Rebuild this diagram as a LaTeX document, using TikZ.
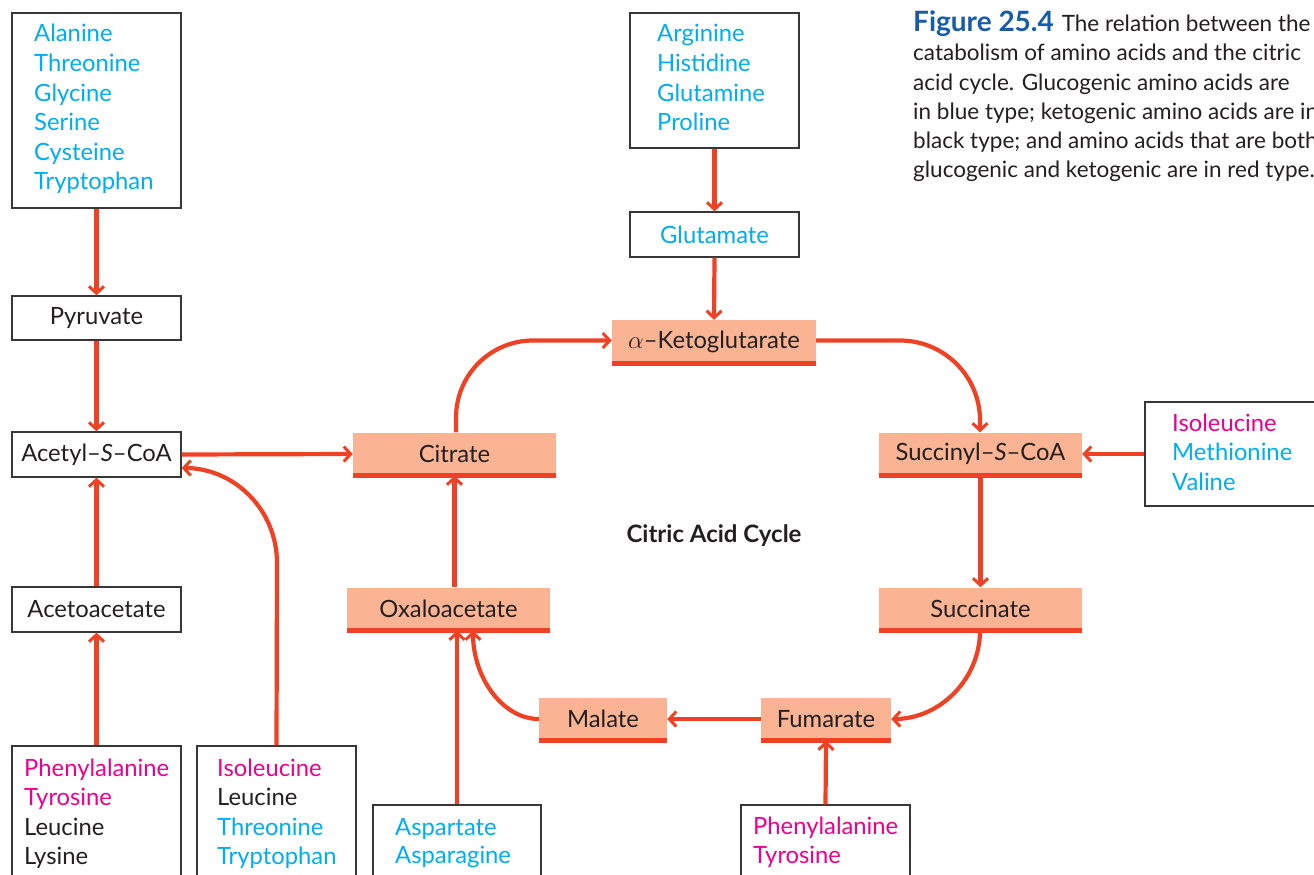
\documentclass[tikz,border=0pt]{standalone}
\usepackage{fontspec}
\setmainfont{Lato}
\usetikzlibrary{arrows.meta}

\definecolor{arrowred}{RGB}{239,65,35}
\definecolor{salmon}{RGB}{250,180,148}
\definecolor{gluco}{RGB}{0,174,239}
\definecolor{both}{RGB}{236,0,140}
\definecolor{keto}{RGB}{35,31,32}
\definecolor{capblue}{RGB}{22,92,168}
\definecolor{boxline}{RGB}{55,55,55}

\begin{document}
\begin{tikzpicture}[x=1pt,y=-1pt,
  txt/.style={font=\fontsize{23.8}{28}\selectfont, inner sep=0pt, text=keto},
  item/.style={txt, anchor=base west},
  wbox/.style={draw=boxline, line width=1.3pt, fill=white, inner sep=0pt, txt},
  cbox/.style={fill=salmon, inner sep=0pt, txt, minimum height=43pt},
  bar/.style={draw=arrowred, line width=5pt},
  link/.style={draw=arrowred, line width=4.2pt,
    -{Straight Barb[length=7pt,width=15pt,line width=3pt]}},
  caption/.style={font=\fontsize{22.5}{28.9}\selectfont, text=keto, inner sep=0pt, anchor=base west}
]
\useasboundingbox (0,0) rectangle (1314,875);
\clip (0,0) rectangle (1314,875);

% ---------- white source boxes ----------
\node[wbox, minimum width=169pt, minimum height=195pt] (glyc) at (96.5,110.5) {};
\foreach \t/\c [count=\i] in {Alanine/gluco, Threonine/gluco, Glycine/gluco,
    Serine/gluco, Cysteine/gluco, Tryptophan/gluco}
  \node[item, text=\c] (glyc\i) at (34,{42+29.5*(\i-1)}) {\t};

\node[wbox, minimum width=169pt, minimum height=44pt] (pyr) at (96.5,318) {Pyruvate};
\node[wbox, minimum width=169pt, minimum height=45pt] (acoa) at (96.5,454.5) {Acetyl--\textit{S}--CoA};
\node[wbox, minimum width=169pt, minimum height=45pt] (aac) at (96.5,609.5) {Acetoacetate};

\node[wbox, minimum width=169pt, minimum height=150pt] (phe) at (96.5,821) {};
\foreach \t/\c [count=\i] in {Phenylalanine/both, Tyrosine/both, Leucine/keto, Lysine/keto}
  \node[item, text=\c] (phe\i) at (24,{776+29.5*(\i-1)}) {\t};

\node[wbox, minimum width=159pt, minimum height=150pt] (ile) at (276.5,821) {};
\foreach \t/\c [count=\i] in {Isoleucine/both, Leucine/keto, Threonine/gluco, Tryptophan/gluco}
  \node[item, text=\c] (ile\i) at (217,{776+29.5*(\i-1)}) {\t};

\node[wbox, minimum width=168pt, minimum height=90pt] (asp) at (457,850) {};
\foreach \t/\c [count=\i] in {Aspartate/gluco, Asparagine/gluco}
  \node[item, text=\c] (asp\i) at (395,{835+28.5*(\i-1)}) {\t};

\node[wbox, minimum width=169pt, minimum height=90pt] (tyr) at (825.5,850) {};
\foreach \t/\c [count=\i] in {Phenylalanine/both, Tyrosine/both}
  \node[item, text=\c] (tyr\i) at (753,{834+29*(\i-1)}) {\t};

\node[wbox, minimum width=169pt, minimum height=135pt] (arg) at (714.5,80.5) {};
\foreach \t/\c [count=\i] in {Arginine/gluco, Histidine/gluco, Glutamine/gluco, Proline/gluco}
  \node[item, text=\c] (arg\i) at (657,{42+29.5*(\i-1)}) {\t};

\node[wbox, minimum width=169pt, minimum height=45pt, text=gluco] (glu) at (714.5,234.5) {Glutamate};

\node[wbox, minimum width=180pt, minimum height=104pt] (met) at (1235,454) {};
\foreach \t/\c [count=\i] in {Isoleucine/both, Methionine/gluco, Valine/gluco}
  \node[item, text=\c] (met\i) at (1172,{431+29.5*(\i-1)}) {\t};

% ---------- citric acid cycle intermediates ----------
\node[cbox, minimum width=204pt] (akg) at (714,341.5) {$\alpha$--Ketoglutarate};
\node[cbox, minimum width=203pt] (cit) at (454.5,454) {Citrate};
\node[cbox, minimum width=203pt] (suc) at (980.5,454) {Succinyl--\textit{S}--CoA};
\node[cbox, minimum width=203pt] (oxa) at (448.5,609) {Oxaloacetate};
\node[cbox, minimum width=203pt] (sin) at (980.5,609) {Succinate};
\node[cbox, minimum width=128pt] (mal) at (603,719) {Malate};
\node[cbox, minimum width=130pt] (fum) at (826,719) {Fumarate};
\foreach \n in {akg,cit,suc,oxa,sin,mal,fum}
  \draw[bar] (\n.south west) -- (\n.south east);

\node[txt, font=\fontsize{24}{28}\selectfont\bfseries] (cac) at (714,536) {Citric Acid Cycle};

% ---------- straight connectors ----------
\draw[link] (glyc.south) -- (pyr.north);
\draw[link] (pyr.south) -- (acoa.north);
\draw[link] (aac.north) -- (acoa.south);
\draw[link] (phe.north) -- (aac.south);
\draw[link] (acoa.east) -- (cit.west);
\draw[link] (oxa.north -| cit.north) -- (cit.south);
\draw[link] (asp.north) -- (asp.north |- oxa.south);
\draw[link] (arg.south) -- (glu.north);
\draw[link] (glu.south) -- (akg.north);
\draw[link] (met.west |- suc.east) -- (suc.east);
\draw[link] (suc.south) -- (sin.north);
\draw[link] (fum.west) -- (mal.east);
\draw[link] (tyr.north) -- (fum.south);

% ---------- curved connectors ----------
\coordinate (akgin) at ([yshift=1pt]akg.west);
\draw[link, rounded corners=77pt] (cit.north -| 456,0) |- (akgin);
\coordinate (akgout) at ([yshift=1pt]akg.east);
\draw[link, rounded corners=80pt] (akgout) -| (suc.north -| 980,0);
\coordinate (sinout) at (sin.south -| 980,0);
\coordinate (fumin) at (fum.east);
\draw[link] (sinout) .. controls +(0,48) and +(49,0) .. (fumin);
\coordinate (malout) at (mal.west);
\coordinate (oxain) at (oxa.south -| 473,0);
\draw[link] (malout) .. controls +(-36,0) and +(0,47) .. (oxain);
\coordinate (acoain) at (acoa.east |- 0,468);
\coordinate (ilebend) at (277,563);
\draw[link] (ile.north) -- (ilebend) .. controls +(0,-53) and +(53,0) .. (acoain);

% ---------- caption ----------
\node[caption] (cap1) at (913,32) {\textcolor{capblue}{\fontsize{28}{30}\selectfont\bfseries Figure 25.4}\hspace{0.35em}The relation between the};
\node[caption] (cap2) at (913,61) {catabolism of amino acids and the citric};
\node[caption] (cap3) at (913,90) {acid cycle. Glucogenic amino acids are};
\node[caption] (cap4) at (913,119) {in blue type; ketogenic amino acids are in};
\node[caption] (cap5) at (913,148) {black type; and amino acids that are both};
\node[caption] (cap6) at (913,177) {glucogenic and ketogenic are in red type.};
\end{tikzpicture}
\end{document}
